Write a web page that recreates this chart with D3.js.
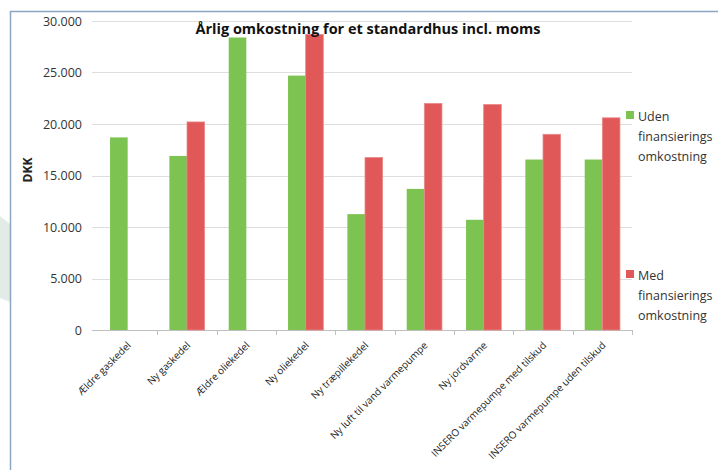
<!DOCTYPE html>
<html>
<head>
<meta charset="utf-8">
<script src="https://cdn.jsdelivr.net/npm/d3@7"></script>
<style>
  body { margin: 0; background: #fff; }
  svg { display: block; }
</style>
</head>
<body>
<svg width="718" height="470"></svg>
<script>
// data
const categories = ["Ældre gaskedel", "Ny gaskedel", "Ældre oliekedel", "Ny oliekedel", "Ny træpillekedel",
    "Ny luft til vand varmepumpe", "Ny jordvarme", "INSERO varmepumpe med tilskud", "INSERO varmepumpe uden tilskud"];
const seriesNames = [["Uden", "finansierings", "omkostning"], ["Med", "finansierings", "omkostning"]];
const udenValues = [18700, 16900, 28400, 24700, 11250, 13700, 10700, 16550, 16550];
const medValues = [null, 20200, null, 28700, 16750, 22000, 21900, 19000, 20600];
const yTicks = [0, 5000, 10000, 15000, 20000, 25000, 30000];
const colors = ["#7dc352", "#e05858"];

const svg = d3.select("svg");
const font = "'Open Sans', 'Liberation Sans', sans-serif";

// faint watermark shape at the left edge of the picture
svg.append("path")
    .attr("d", "M0,216 L10,224 L10,302 L0,298 Z")
    .attr("fill", "#e2ebe5");

// frame of the chart area
svg.append("path")
    .attr("d", "M10.5,470 L10.5,11.5 L718,11.5")
    .attr("fill", "none")
    .attr("stroke", "#8aa6c4")
    .attr("stroke-width", 1.5);

const plotLeft = 98, plotRight = 632, plotTop = 21, plotBottom = 330;

const x = d3.scaleBand().domain(categories).range([plotLeft, plotRight]).padding(0);
const y = d3.scaleLinear().domain([0, 30000]).range([plotBottom, plotTop]);
const barW = x.bandwidth() * 0.297;

// gridlines
svg.append("g")
    .selectAll("line")
    .data(yTicks)
    .join("line")
    .attr("x1", plotLeft - 6).attr("x2", plotRight)
    .attr("y1", d => Math.round(y(d)) + 0.5).attr("y2", d => Math.round(y(d)) + 0.5)
    .attr("stroke", d => d === 0 ? "#bfbfbf" : "#dedede");

// y tick labels
const fmt = d => d === 0 ? "0" : d3.format(",")(d).replace(/,/g, ".");
svg.append("g")
    .selectAll("text")
    .data(yTicks)
    .join("text")
    .attr("x", 82)
    .attr("y", d => y(d) + 4.5)
    .attr("text-anchor", "end")
    .attr("font-family", font)
    .attr("font-size", 12.5)
    .attr("fill", "#333")
    .text(fmt);

// x axis tick marks
svg.append("g")
    .selectAll("line")
    .data(categories)
    .join("line")
    .attr("x1", d => Math.round(x(d) + x.bandwidth()) + 0.5)
    .attr("x2", d => Math.round(x(d) + x.bandwidth()) + 0.5)
    .attr("y1", plotBottom).attr("y2", plotBottom + 5)
    .attr("stroke", "#bfbfbf");

// bars
const series = [udenValues, medValues];
series.forEach((vals, s) => {
    svg.append("g")
        .selectAll("rect")
        .data(vals.map((v, i) => ({ c: categories[i], v })).filter(d => d.v != null))
        .join("rect")
        .attr("x", d => x(d.c) + x.bandwidth() / 2 - barW + s * barW)
        .attr("y", d => y(d.v))
        .attr("width", barW)
        .attr("height", d => y(0) - y(d.v))
        .attr("fill", colors[s])
        .attr("stroke", s === 1 ? "#ea8a8a" : "none")
        .attr("stroke-width", 0.8);
});

// x labels
svg.append("g")
    .selectAll("text")
    .data(categories)
    .join("text")
    .attr("transform", d => `translate(${x(d) + x.bandwidth() / 2 + 4},${plotBottom + 16}) rotate(-45)`)
    .attr("text-anchor", "end")
    .attr("font-family", font)
    .attr("font-size", 10)
    .attr("fill", "#222")
    .text(d => d);

// title
svg.append("text")
    .attr("x", 368).attr("y", 34)
    .attr("text-anchor", "middle")
    .attr("font-family", font)
    .attr("font-weight", "bold")
    .attr("font-size", 14.5)
    .attr("fill", "#111")
    .text("Årlig omkostning for et standardhus incl. moms");

// y axis title
svg.append("text")
    .attr("transform", "translate(32,170) rotate(-90)")
    .attr("text-anchor", "middle")
    .attr("font-family", font)
    .attr("font-weight", "bold")
    .attr("font-size", 12)
    .attr("fill", "#222")
    .text("DKK");

// legend
const legendY = [117, 276];
seriesNames.forEach((lines, s) => {
    svg.append("rect")
        .attr("x", 626).attr("y", legendY[s] - 6)
        .attr("width", 8).attr("height", 8)
        .attr("fill", colors[s]);
    svg.append("text")
        .attr("font-family", font)
        .attr("font-size", 12.5)
        .attr("fill", "#333")
        .selectAll("tspan")
        .data(lines)
        .join("tspan")
        .attr("x", 638)
        .attr("y", (d, i) => legendY[s] + 4 + i * 20)
        .text(d => d);
});
</script>
</body>
</html>
